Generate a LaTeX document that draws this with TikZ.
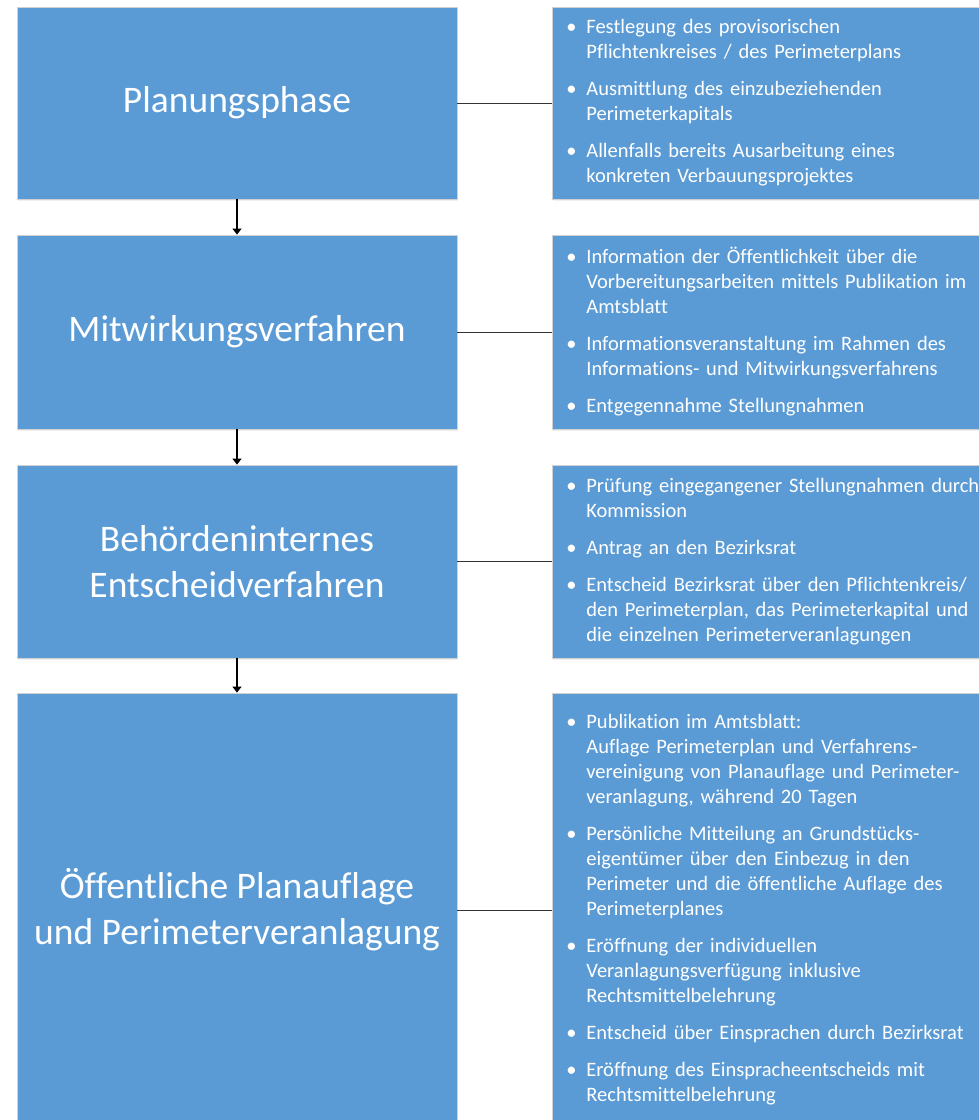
\documentclass[tikz,border=0pt]{standalone}
\usepackage{fontspec}
\setmainfont{Carlito}[Ligatures=CommonOff]
\usetikzlibrary{arrows.meta,shadows}

\definecolor{phaseblue}{HTML}{5B9BD5}

\newcommand{\bulitem}{\makebox[20pt][l]{\textbullet}}
\newcommand{\bulcont}{\hspace*{20pt}}

\begin{document}
\begin{tikzpicture}[
    x=1pt, y=-1pt,
    phasebox/.style={fill=phaseblue, draw=black!18, line width=0.8pt,
        text=white, minimum width=440pt, align=center,
        font=\fontsize{37.5}{46}\selectfont,
        drop shadow={opacity=0.12, shadow xshift=0.5pt, shadow yshift=-2pt}},
    infobox/.style={fill=phaseblue, draw=black!18, line width=0.8pt,
        text=white, anchor=west, text width=460pt, inner xsep=14pt,
        align=left, font=\fontsize{20.5}{25}\selectfont,
        drop shadow={opacity=0.12, shadow xshift=0.5pt, shadow yshift=-2pt}},
    flow/.style={-{Triangle[width=9pt,length=6pt]}, line width=1.2pt, black},
    link/.style={line width=1pt, black!80},
]
\useasboundingbox (0,0) rectangle (979,1120);
\clip (0,0) rectangle (979,1120);

% Phases (left column)
\node[phasebox, minimum height=192pt] (planung) at (237,103) {Planungsphase};
\node[phasebox, minimum height=194pt] (mitwirkung) at (237,332) {Mitwirkungsverfahren};
\node[phasebox, minimum height=193pt] (entscheid) at (237,561.5)
    {Behördeninternes\\Entscheidverfahren};
\node[phasebox, minimum height=434pt] (auflage) at (237,910)
    {Öffentliche Planauflage\\und Perimeterveranlagung};

% Steps of each phase (right column, runs past the page edge)
\node[infobox, minimum height=192pt] (planungInfo) at (552,103) {%
    \bulitem Festlegung des provisorischen\\
    \bulcont Pflichtenkreises / des Perimeterplans\\[12pt]
    \bulitem Ausmittlung des einzubeziehenden\\
    \bulcont Perimeterkapitals\\[12pt]
    \bulitem Allenfalls bereits Ausarbeitung eines\\
    \bulcont konkreten Verbauungsprojektes};

\node[infobox, minimum height=194pt] (mitwirkungInfo) at (552,332) {%
    \bulitem Information der Öffentlichkeit über die\\
    \bulcont Vorbereitungsarbeiten mittels Publikation im\\
    \bulcont Amtsblatt\\[12pt]
    \bulitem Informationsveranstaltung im Rahmen des\\
    \bulcont Informations- und Mitwirkungsverfahrens\\[12pt]
    \bulitem Entgegennahme Stellungnahmen};

\node[infobox, minimum height=193pt] (entscheidInfo) at (552,561.5) {%
    \bulitem Prüfung eingegangener Stellungnahmen durch\\
    \bulcont Kommission\\[12pt]
    \bulitem Antrag an den Bezirksrat\\[12pt]
    \bulitem Entscheid Bezirksrat über den Pflichtenkreis/\\
    \bulcont den Perimeterplan, das Perimeterkapital und\\
    \bulcont die einzelnen Perimeterveranlagungen};

\node[infobox, minimum height=434pt] (auflageInfo) at (552,910) {%
    \bulitem Publikation im Amtsblatt:\\
    \bulcont Auflage Perimeterplan und Verfahrens-\\
    \bulcont vereinigung von Planauflage und Perimeter-\\
    \bulcont veranlagung, während 20 Tagen\\[12pt]
    \bulitem Persönliche Mitteilung an Grundstücks-\\
    \bulcont eigentümer über den Einbezug in den\\
    \bulcont Perimeter und die öffentliche Auflage des\\
    \bulcont Perimeterplanes\\[12pt]
    \bulitem Eröffnung der individuellen\\
    \bulcont Veranlagungsverfügung inklusive\\
    \bulcont Rechtsmittelbelehrung\\[12pt]
    \bulitem Entscheid über Einsprachen durch Bezirksrat\\[12pt]
    \bulitem Eröffnung des Einspracheentscheids mit\\
    \bulcont Rechtsmittelbelehrung};

% Sequence of phases
\draw[flow] (planung) -- (mitwirkung);
\draw[flow] (mitwirkung) -- (entscheid);
\draw[flow] (entscheid) -- (auflage);

% Phase to its steps
\draw[link] (planung) -- (planungInfo);
\draw[link] (mitwirkung) -- (mitwirkungInfo);
\draw[link] (entscheid) -- (entscheidInfo);
\draw[link] (auflage) -- (auflageInfo);

\end{tikzpicture}
\end{document}
